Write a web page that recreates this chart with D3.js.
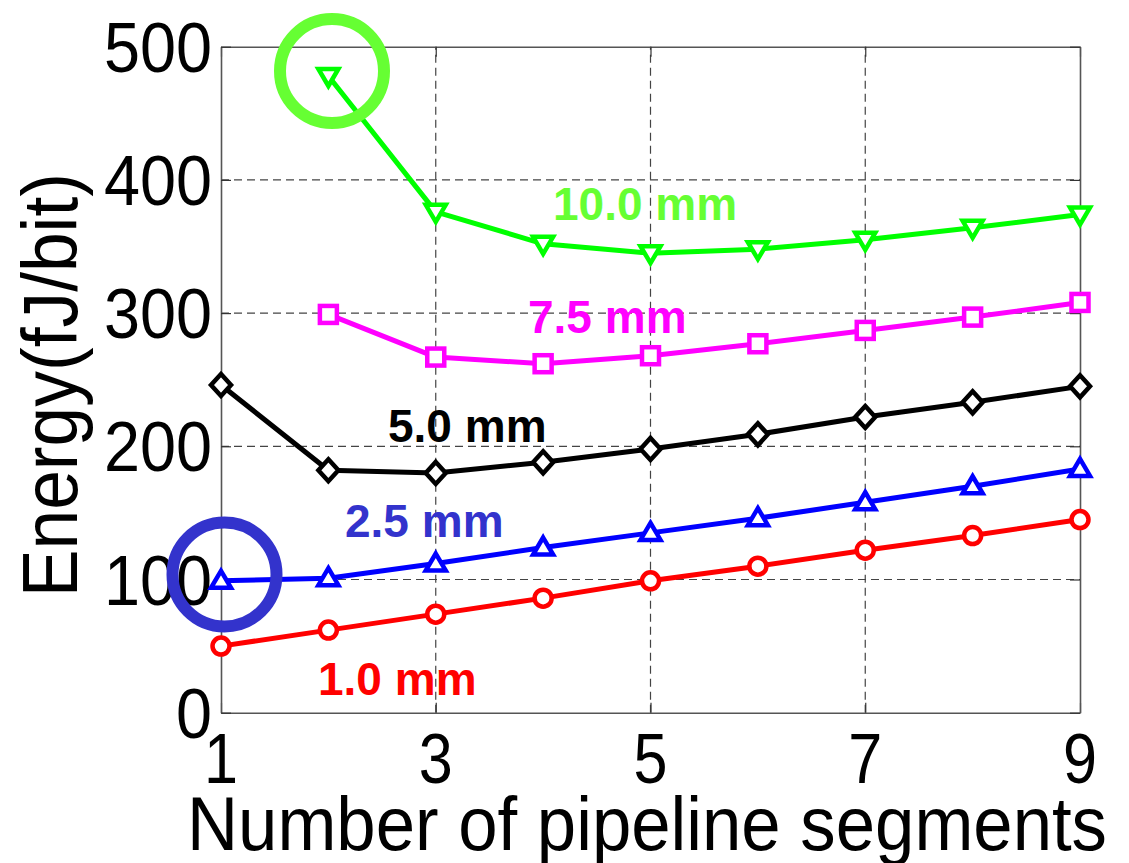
<!DOCTYPE html>
<html><head><meta charset="utf-8">
<script src="https://cdn.jsdelivr.net/npm/d3@7"></script>
<style>html,body{margin:0;padding:0;background:#fff;}svg{display:block;}</style>
</head><body>
<svg id="chart" width="1129" height="863"></svg>
<script>
const segments = [1, 2, 3, 4, 5, 6, 7, 8, 9];
const energy1_0 = [50, 62, 74, 86, 99, 110, 122, 133, 145];
const energy2_5 = [99, 101, 112, 124, 135, 146, 158, 170, 183];
const energy5_0 = [246, 182, 180, 188, 198, 209, 222, 233, 245];
const energy7_5 = [null, 299, 267, 262, 268, 277, 287, 297, 308];
const energy10_0 = [null, 478, 376, 352, 345, 348, 355, 364, 374];
const seriesLabels = ["1.0 mm", "2.5 mm", "5.0 mm", "7.5 mm", "10.0 mm"];
const xTicks = [1, 3, 5, 7, 9];
const yTicks = [0, 100, 200, 300, 400, 500];

const svg = d3.select("#chart");
const L = 221, R = 1080, T = 46.7, B = 712.7;
const x = d3.scaleLinear().domain([1, 9]).range([L, R]);
const y = d3.scaleLinear().domain([0, 500]).range([B, T]);

// grid
const grid = svg.append("g").attr("stroke", "#444").attr("stroke-width", 1.2).attr("stroke-dasharray", "8,5");
[3, 5, 7].forEach(v => grid.append("line").attr("x1", x(v)).attr("x2", x(v)).attr("y1", B).attr("y2", T));
[100, 200, 300, 400].forEach(v => grid.append("line").attr("y1", y(v)).attr("y2", y(v)).attr("x1", L).attr("x2", R));

// axes (ticks inward)
const fontTick = "'Liberation Sans', Arial, sans-serif";
const ax = svg.append("g").attr("transform", `translate(0,${B})`)
  .call(d3.axisBottom(x).tickValues(xTicks).tickSizeInner(-10).tickSizeOuter(0).tickFormat(""));
const axT = svg.append("g").attr("transform", `translate(0,${T})`)
  .call(d3.axisTop(x).tickValues(xTicks).tickSizeInner(-10).tickSizeOuter(0).tickFormat(""));
const ay = svg.append("g").attr("transform", `translate(${L},0)`)
  .call(d3.axisLeft(y).tickValues(yTicks).tickSizeInner(-10).tickSizeOuter(0).tickFormat(""));
const ayR = svg.append("g").attr("transform", `translate(${R},0)`)
  .call(d3.axisRight(y).tickValues(yTicks).tickSizeInner(-10).tickSizeOuter(0).tickFormat(""));
[ax, axT, ay, ayR].forEach(g => {
  g.selectAll("path").attr("stroke", "#555").attr("stroke-width", 1.6);
  g.selectAll("line").attr("stroke", "#333").attr("stroke-width", 1.2);
});

// tick labels
xTicks.forEach(v => {
  const s = String(v);
  svg.append("text").attr("x", x(v)).attr("y", 783).attr("text-anchor", "middle")
    .attr("font-family", fontTick).attr("font-size", 70)
    .attr("textLength", 34 * s.length).attr("lengthAdjust", "spacingAndGlyphs").text(s);
});
yTicks.forEach(v => {
  const s = String(v);
  svg.append("text").attr("x", 212 - 36 * s.length).attr("y", y(v) + 25)
    .attr("font-family", fontTick).attr("font-size", 71)
    .attr("textLength", 36 * s.length).attr("lengthAdjust", "spacingAndGlyphs").text(s);
});

// axis titles
svg.append("text").attr("x", 187).attr("y", 850).attr("font-family", fontTick).attr("font-size", 76)
  .attr("textLength", 920).attr("lengthAdjust", "spacingAndGlyphs").text("Number of pipeline segments");
svg.append("text").attr("transform", "translate(77,597) rotate(-90)").attr("font-family", fontTick).attr("font-size", 78)
  .attr("textLength", 424).attr("lengthAdjust", "spacingAndGlyphs").text("Energy(fJ/bit)");

// series
const series = [
  {vals: energy1_0, color: "#ff0000", marker: "circle"},
  {vals: energy2_5, color: "#0000ff", marker: "up"},
  {vals: energy5_0, color: "#000000", marker: "diamond"},
  {vals: energy7_5, color: "#ff00ff", marker: "square"},
  {vals: energy10_0, color: "#00ff00", marker: "down"}
];
const line = d3.line().defined(d => d.v != null).x(d => x(d.x)).y(d => y(d.v));
series.forEach(s => {
  const pts = segments.map((xv, i) => ({x: xv, v: s.vals[i]}));
  svg.append("path").datum(pts).attr("d", line).attr("fill", "none")
    .attr("stroke", s.color).attr("stroke-width", 5).attr("stroke-linejoin", "round");
  const g = svg.append("g").attr("fill", "#fff").attr("stroke", s.color).attr("stroke-width", 4.5);
  pts.filter(d => d.v != null).forEach(d => {
    const cx = x(d.x), cy = y(d.v);
    if (s.marker === "circle") g.append("circle").attr("cx", cx).attr("cy", cy).attr("r", 8.5);
    else if (s.marker === "square") g.append("rect").attr("x", cx - 8.5).attr("y", cy - 8.5).attr("width", 17).attr("height", 17);
    else if (s.marker === "diamond") g.append("path").attr("d", `M${cx},${cy-11}L${cx+10},${cy}L${cx},${cy+11}L${cx-10},${cy}Z`);
    else if (s.marker === "up") g.append("path").attr("d", `M${cx},${cy-10}L${cx+10},${cy+7}L${cx-10},${cy+7}Z`).attr("stroke-linejoin", "miter");
    else if (s.marker === "down") g.append("path").attr("d", `M${cx},${cy+10}L${cx+10},${cy-7}L${cx-10},${cy-7}Z`).attr("stroke-linejoin", "miter");
  });
});

// series labels
const labelFont = "'Liberation Sans', Arial, sans-serif";
const labelSpec = [
  {text: seriesLabels[0], x: 318, y: 695, color: "#ff0000"},
  {text: seriesLabels[1], x: 345, y: 537, color: "#3333cc"},
  {text: seriesLabels[2], x: 388, y: 442, color: "#000000"},
  {text: seriesLabels[3], x: 528, y: 333, color: "#ff00ff"},
  {text: seriesLabels[4], x: 553, y: 220, color: "#66ff33"}
];
labelSpec.forEach(l => svg.append("text").attr("x", l.x).attr("y", l.y).attr("font-family", labelFont)
  .attr("font-weight", "bold").attr("font-size", 46).attr("fill", l.color).text(l.text));

// highlight circles
svg.append("circle").attr("cx", 332).attr("cy", 71).attr("r", 52).attr("fill", "none").attr("stroke", "#66ff33").attr("stroke-width", 12);
svg.append("circle").attr("cx", 224.5).attr("cy", 574.5).attr("r", 52).attr("fill", "none").attr("stroke", "#3333cc").attr("stroke-width", 12);
</script>
</body></html>
